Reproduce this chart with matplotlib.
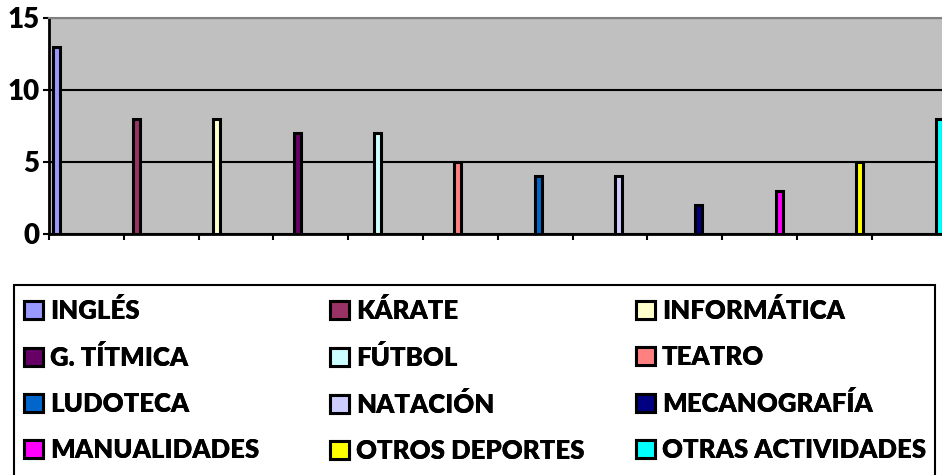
import matplotlib
matplotlib.use("Agg")
import matplotlib.pyplot as plt
from matplotlib.patches import Rectangle
import numpy as np

# ---------------- data ----------------
activities = ["INGLÉS", "KÁRATE", "INFORMÁTICA", "G. TÍTMICA", "FÚTBOL", "TEATRO",
              "LUDOTECA", "NATACIÓN", "MECANOGRAFÍA", "MANUALIDADES",
              "OTROS DEPORTES", "OTRAS ACTIVIDADES"]
counts = [13, 8, 8, 7, 7, 5, 4, 4, 2, 3, 5, 8]
colors = ["#9999FF", "#993366", "#FFFFCC", "#660066", "#CCFFFF", "#FF8080",
          "#0066CC", "#CCCCFF", "#000080", "#FF00FF", "#FFFF00", "#00FFFF"]
y_ticks = [0, 5, 10, 15]

# ---------------- style ----------------
plt.rcParams['font.family'] = ['Lato', 'DejaVu Sans']
W, H = 942, 475
fig = plt.figure(figsize=(W / 100, H / 100), dpi=100)

ax_left, ax_right, ax_top, ax_bottom = 49, 946.6, 18, 234
ax = fig.add_axes([ax_left / W, 1 - ax_bottom / H,
                   (ax_right - ax_left) / W, (ax_bottom - ax_top) / H])
ax.set_facecolor('#C0C0C0')

pitch = 80.36          # pixels between bars
first_bar = 56         # pixel of first bar centre
x = np.arange(len(activities))
bars = ax.bar(x, counts, width=7.0 / pitch, color=colors,
              edgecolor='black', linewidth=2.2, zorder=3)

x0 = (ax_left - first_bar) / pitch
x1 = (ax_right - first_bar) / pitch
ax.set_xlim(x0, x1)
ax.set_ylim(0, 15)
ax.set_xticks(np.linspace(x0, x1, 13))
ax.set_xticklabels([])
ax.set_yticks(y_ticks)
ax.set_yticklabels([str(v) for v in y_ticks], fontsize=20, fontweight='heavy')
ax.tick_params(axis='both', direction='out', length=4, width=1.5, color='black', pad=3)

ax.yaxis.grid(True, color='black', linewidth=1.5)
ax.set_axisbelow(True)

ax.spines['left'].set_color('black')
ax.spines['left'].set_linewidth(2)
ax.spines['bottom'].set_color('black')
ax.spines['bottom'].set_linewidth(2)
ax.spines['top'].set_color('#808080')
ax.spines['top'].set_linewidth(1.5)
ax.spines['right'].set_color('#808080')
ax.spines['right'].set_linewidth(1.5)

# ---------------- legend ----------------
fs = 18.5
fs_px = fs * 100 / 72
col_x = [24, 330, 636]
anchor_y = 298
for c in range(3):
    idx = list(range(c, len(activities), 3))
    leg = fig.legend([bars.patches[i] for i in idx], [activities[i] for i in idx],
                     loc='upper left', bbox_to_anchor=(col_x[c] / W, 1 - anchor_y / H),
                     bbox_transform=fig.transFigure, frameon=False,
                     borderpad=0, borderaxespad=0,
                     handlelength=19 / fs_px, handleheight=18 / fs_px,
                     handletextpad=7 / fs_px, labelspacing=0.86,
                     prop={'size': fs, 'weight': 'heavy'})
    fig.add_artist(leg)

frame = Rectangle((14 / W, -0.05), (935 - 14) / W, (1 - 285 / H) + 0.05,
                  transform=fig.transFigure, fill=False, edgecolor='black',
                  linewidth=1.5, clip_on=False)
fig.add_artist(frame)

fig.savefig('out.png', dpi=100)
